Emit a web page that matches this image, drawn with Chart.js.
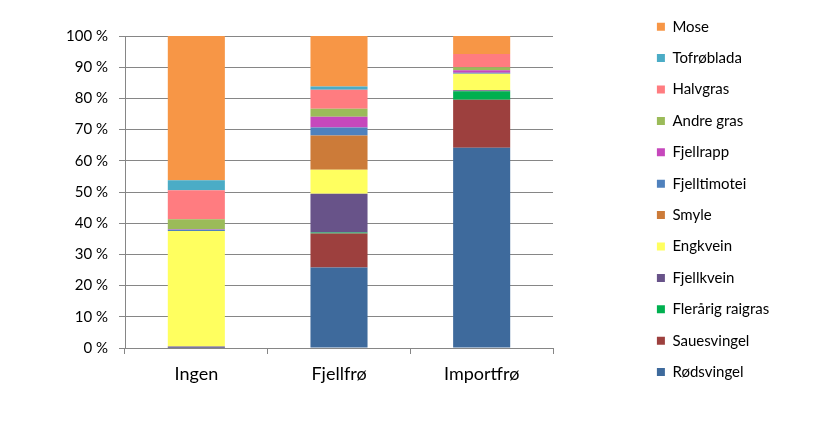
<!DOCTYPE html>
<html>
<head>
<meta charset="utf-8">
<script src="https://cdn.jsdelivr.net/npm/chart.js@4/dist/chart.umd.min.js"></script>
<style>
  html, body { margin: 0; padding: 0; background: #fff; }
  #wrap { width: 824px; height: 424px; }
</style>
</head>
<body>
<div id="wrap"><canvas id="chart"></canvas></div>
<script>
const categories = ['Ingen', 'Fjellfrø', 'Importfrø'];

// percent of cover, bottom of the stack first
const rodsvingel   = [0.1, 25.8, 64.2];
const sauesvingel  = [0, 10.9, 15.4];
const flerarig     = [0, 0.3, 2.7];
const fjellkvein   = [0.4, 12.4, 0.3];
const engkvein     = [37.0, 7.7, 5.3];
const smyle        = [0, 11.0, 0];
const fjelltimotei = [0.4, 2.6, 0.3];
const fjellrapp    = [0.2, 3.4, 0.8];
const andreGras    = [3.2, 2.6, 1.0];
const halvgras     = [9.3, 6.1, 4.2];
const tofroblada   = [3.2, 1.0, 0];
const mose         = [46.2, 16.2, 5.8];

const yTicks = [0, 10, 20, 30, 40, 50, 60, 70, 80, 90, 100];

const gridColor = '#868686';
const fontName = 'Lato';
const legendWidth = 160;

function makeSet(label, data, color) {
  return {
    label: label,
    data: data,
    backgroundColor: color,
    borderWidth: 0,
    xAxisID: 'x',
    yAxisID: 'y',
    categoryPercentage: 1.0,
    barPercentage: 0.4
  };
}

// fixed legend width, then put the legend box where the original has it
const legendPlacer = {
  id: 'legendPlacer',
  beforeInit(chart) {
    const lg = chart.legend;
    if (!lg) return;
    const fit = lg.fit.bind(lg);
    lg.fit = function() {
      fit();
      this.width = legendWidth;
    };
  },
  afterLayout(chart) {
    const lg = chart.legend;
    if (!lg) return;
    lg.left = 640.5;
    lg.right = lg.left + lg.width;
    lg.top = 2.8;
    lg.bottom = lg.top + lg.height;
    lg.adjustHitBoxes();
  }
};

const canvas = document.getElementById('chart');

new Chart(canvas, {
  type: 'bar',
  data: {
    labels: categories,
    datasets: [
      makeSet('Rødsvingel', rodsvingel, '#3e6a9c'),
      makeSet('Sauesvingel', sauesvingel, '#9d403e'),
      makeSet('Flerårig raigras', flerarig, '#00b050'),
      makeSet('Fjellkvein', fjellkvein, '#685389'),
      makeSet('Engkvein', engkvein, '#ffff5f'),
      makeSet('Smyle', smyle, '#cc7b39'),
      makeSet('Fjelltimotei', fjelltimotei, '#4f81bd'),
      makeSet('Fjellrapp', fjellrapp, '#c648bc'),
      makeSet('Andre gras', andreGras, '#9bbb59'),
      makeSet('Halvgras', halvgras, '#ff7c80'),
      makeSet('Tofrøblada', tofroblada, '#4bacc6'),
      makeSet('Mose', mose, '#f79646')
    ]
  },
  plugins: [legendPlacer],
  options: {
    responsive: true,
    maintainAspectRatio: false,
    animation: false,
    layout: { padding: { top: 0, bottom: 0, left: 0, right: 824 - 553 - legendWidth } },
    plugins: {
      tooltip: { enabled: false },
      legend: {
        position: 'right',
        align: 'start',
        reverse: true,
        labels: {
          boxWidth: 8,
          boxHeight: 8,
          padding: 16.4,
          color: '#000',
          font: { family: fontName, size: 15 }
        }
      }
    },
    scales: {
      x: {
        stacked: true,
        grid: {
          display: true,
          drawOnChartArea: false,
          drawTicks: true,
          tickLength: 6,
          color: gridColor
        },
        border: { color: gridColor },
        ticks: {
          padding: 9,
          color: '#000',
          font: { family: fontName, size: 18 }
        },
        afterFit(scale) { scale.height = 76; }
      },
      y: {
        stacked: true,
        min: 0,
        max: 100,
        afterBuildTicks(scale) {
          scale.ticks = yTicks.map(v => ({ value: v }));
        },
        grid: {
          color: gridColor,
          tickLength: 6
        },
        border: { color: gridColor },
        ticks: {
          padding: 11,
          color: '#000',
          font: { family: fontName, size: 15 },
          callback: v => v + ' %'
        },
        afterFit(scale) { scale.width = 125; }
      },
      topSpace: {
        type: 'linear',
        position: 'top',
        display: true,
        grid: { display: false },
        border: { display: false },
        ticks: { display: false },
        afterFit(scale) { scale.height = 36; }
      }
    }
  }
});
</script>
</body>
</html>
